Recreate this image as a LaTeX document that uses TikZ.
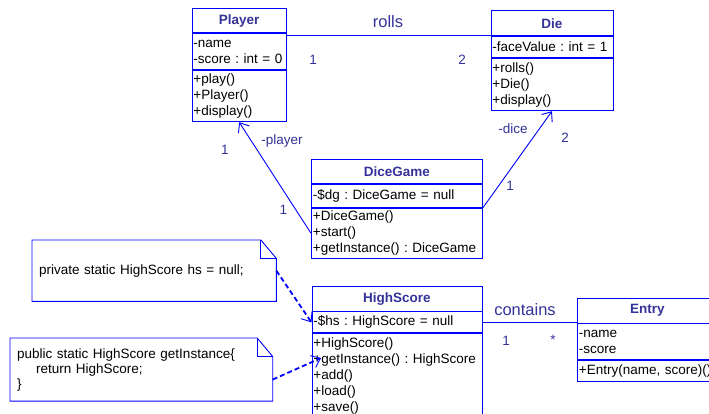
\documentclass[tikz,border=0pt]{standalone}
\usepackage{fontspec}
\setmainfont{Liberation Sans}
\usetikzlibrary{arrows.meta,positioning}
\definecolor{umlblue}{RGB}{0,0,255}
\definecolor{titleblue}{RGB}{51,51,153}
\newcommand{\umltext}{\fontsize{13.5}{16}\selectfont}
\newcommand{\umlbig}{\fontsize{16.5}{18}\selectfont}
\frenchspacing

\begin{document}
\begin{tikzpicture}[
    x=1pt, y=-1pt,
    every node/.style={font=\umltext},
    classname/.style={draw=umlblue, line width=0.9pt, anchor=north west, inner sep=0pt, minimum height=24.5pt, font=\umltext\bfseries, text=titleblue},
    classpart/.style={draw=umlblue, line width=0.9pt, anchor=north west, inner xsep=1.5pt, inner ysep=0pt, align=left},
    note/.style={anchor=north west, inner xsep=7pt, inner ysep=0pt, align=left, fill=white},
    noteline/.style={draw=umlblue, line width=0.9pt},
    assoc/.style={draw=umlblue, line width=0.9pt},
    nav/.style={assoc, -{Straight Barb[length=8pt,width=13pt]}},
    dep/.style={draw=umlblue, line width=1.8pt, dash pattern=on 5pt off 3pt, -{Straight Barb[length=8pt,width=13pt,line width=0.9pt]}},
    assocname/.style={text=titleblue, font=\umlbig},
    rolename/.style={text=titleblue},
    mult/.style={text=titleblue}
]
\useasboundingbox (0,0) rectangle (709,414);
\clip (0,0) rectangle (709,414);
\fill[white] (0,0) rectangle (709,414);

% Player
\node[classname, minimum width=94.5pt] (player) at (191.5,8) {Player};
\node[classpart, text width=91.5pt, minimum height=36pt] (player attr) at (player.south west) {-name\\-score : int = 0};
\node[classpart, text width=91.5pt, minimum height=51pt] (player ops) at (player attr.south west) {+play()\\+Player()\\+display()};

% Die
\node[classname, minimum width=122pt] (die) at (490.5,10.5) {Die};
\node[classpart, text width=119pt, minimum height=21.5pt] (die attr) at (die.south west) {-faceValue : int = 1};
\node[classpart, text width=119pt, minimum height=52pt] (die ops) at (die attr.south west) {+rolls()\\+Die()\\+display()};

% DiceGame
\node[classname, minimum width=171pt] (dicegame) at (311,159) {DiceGame};
\node[classpart, text width=168pt, minimum height=22.5pt] (dicegame attr) at (dicegame.south west) {-\$dg : DiceGame = null};
\node[classpart, text width=168pt, minimum height=50pt] (dicegame ops) at (dicegame attr.south west) {+DiceGame()\\+start()\\+getInstance() : DiceGame};

% HighScore
\node[classname, minimum width=170pt] (highscore) at (311.5,286) {HighScore};
\node[classpart, text width=167pt, minimum height=21pt] (highscore attr) at (highscore.south west) {-\$hs : HighScore = null};
\node[classpart, text width=167pt, minimum height=84pt] (highscore ops) at (highscore attr.south west) {+HighScore()\\+getInstance() : HighScore\\+add()\\+load()\\+save()};

% Entry
\node[classname, minimum width=140pt] (entry) at (577,298) {Entry};
\node[classpart, text width=137pt, minimum height=35.5pt] (entry attr) at (entry.south west) {-name\\-score};
\node[classpart, text width=137pt, minimum height=21.5pt] (entry ops) at (entry attr.south west) {+Entry(name, score)()};

% Notes
\node[note, text width=230pt, minimum height=61pt] (hs note) at (32,240) {private static HighScore hs = null;};
\draw[noteline] (hs note.north west) -- ([xshift=-15.5pt]hs note.north east) -- ([yshift=-18.5pt]hs note.north east) -- (hs note.south east) -- (hs note.south west) -- cycle;
\draw[noteline] ([xshift=-15.5pt]hs note.north east) |- ([yshift=-18.5pt]hs note.north east);

\node[note, text width=248.3pt, minimum height=62.7pt, font=\fontsize{13.5}{15}\selectfont] (inst note) at (10,338) {public static HighScore getInstance\{\\\hspace*{19pt}return HighScore;\\\}};
\draw[noteline] (inst note.north west) -- ([xshift=-15.5pt]inst note.north east) -- ([yshift=-18.5pt]inst note.north east) -- (inst note.south east) -- (inst note.south west) -- cycle;
\draw[noteline] ([xshift=-15.5pt]inst note.north east) |- ([yshift=-18.5pt]inst note.north east);

% Labels
\node[assocname] (rolls) at (388,22) {rolls};
\node[mult] (rolls one) at (313,60) {1};
\node[mult] (rolls two) at (462,60) {2};
\node[rolename] (player role) at (282,141.5) {-player};
\node[mult] (player one) at (225,149.5) {1};
\node[mult] (game one) at (283.5,210) {1};
\node[rolename] (dice role) at (513,129) {-dice};
\node[mult] (dice two) at (565,138) {2};
\node[mult] (game two) at (510,186) {1};
\node[assocname] (contains) at (525,310) {contains};
\node[mult] (contains one) at (506,341) {1};
\node[mult] (contains many) at (553,340) {*};

% Connections
\draw[assoc] (die.south west -| player.east) -- (die.south west);
\draw[nav] (dicegame ops.west) -- (player ops.south);
\draw[nav] (dicegame ops.north east) -- (die ops.south);
\draw[assoc] (highscore attr.east) -- (highscore attr.east -| entry.west);

\coordinate (get instance) at (321,358);
\draw[dep] (hs note.east) -- (highscore attr.west);
\draw[dep] ([yshift=-10pt]inst note.east) -- (get instance);

\end{tikzpicture}
\end{document}
